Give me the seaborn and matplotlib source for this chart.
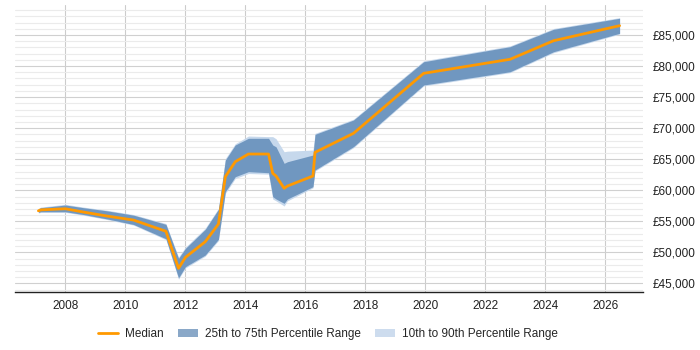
import matplotlib
matplotlib.use("Agg")
import matplotlib.pyplot as plt
from matplotlib.ticker import MultipleLocator, FuncFormatter
from matplotlib.lines import Line2D
from matplotlib.patches import Patch
import seaborn as sns
import pandas as pd

years = [2007.1, 2007.18, 2008.0, 2008.6, 2009.38, 2010.27, 2011.35, 2011.77, 2012.0,
         2012.66, 2013.1, 2013.33, 2013.66, 2014.1, 2014.77, 2014.91, 2015.02, 2015.29,
         2015.4, 2016.25, 2016.32, 2017.6, 2019.94, 2022.82, 2024.27, 2026.47]
median = [56700, 56850, 57030, 56500, 55860, 55210, 53400, 47440, 49210,
          51720, 54570, 62190, 64600, 65840, 65840, 62730, 62300, 60320,
          60690, 62300, 66110, 69170, 78830, 81090, 84080, 86500]
p25 = [56450, 56550, 56550, 56100, 55400, 54500, 52200, 45900, 47700,
       49580, 52110, 59770, 62190, 63000, 62830, 58970, 58600, 57900,
       58600, 60580, 63270, 67020, 76950, 79090, 82310, 85270]
p75 = [57000, 57200, 57630, 57200, 56700, 56000, 54520, 49050, 50660,
       53720, 56940, 64870, 67290, 68370, 68370, 67290, 67000, 64340,
       64600, 65680, 69010, 71310, 80700, 83120, 85920, 87690]
p10 = [56350, 56450, 56450, 56000, 55300, 54400, 52050, 45700, 47500,
       49400, 51900, 59500, 61900, 62700, 62600, 58600, 58300, 57470,
       58300, 60400, 63100, 66850, 76800, 78950, 82150, 85150]
p90 = [57100, 57300, 57750, 57300, 56800, 56100, 54650, 49250, 50850,
       53900, 57100, 65100, 67500, 68740, 68640, 68640, 68300, 66210,
       66300, 66480, 69170, 71450, 80850, 83250, 86050, 87800]

df = pd.DataFrame({"year": years, "median": median, "p25": p25, "p75": p75,
                   "p10": p10, "p90": p90})

dark = "#7097c0"
light = "#c6d8ec"
orange = "#ff9900"

sns.set_style("white")
plt.rcParams["font.family"] = ["Liberation Sans", "DejaVu Sans"]

fig = plt.figure(figsize=(7, 3.5), dpi=100)
ax = fig.add_axes([15 / 700, 58 / 350, 628 / 700, 287 / 350])

ax.fill_between(df["year"], df["p10"], df["p90"], color=light, lw=0, zorder=2)
ax.fill_between(df["year"], df["p25"], df["p75"], color=dark, lw=0, zorder=3)
sns.lineplot(data=df, x="year", y="median", color=orange, lw=2, ax=ax, zorder=4)

ax.set_xlim(2006.32, 2027.25)
ax.set_ylim(43630, 89830)
ax.xaxis.set_major_locator(MultipleLocator(2))
ax.yaxis.set_major_locator(MultipleLocator(5000))
ax.yaxis.set_minor_locator(MultipleLocator(1000))
ax.yaxis.set_major_formatter(FuncFormatter(lambda v, p: f"£{int(v):,}"))
ax.yaxis.tick_right()
ax.grid(axis="x", which="major", color="#cccccc", lw=0.8, zorder=0)
ax.grid(axis="y", which="major", color="#d0d0d0", lw=0.8, zorder=0)
ax.grid(axis="y", which="minor", color="#ebebeb", lw=0.8, zorder=0)
ax.set_axisbelow(True)
for s in ["top", "right", "left"]:
    ax.spines[s].set_visible(False)
ax.spines["bottom"].set_color("#222222")
ax.spines["bottom"].set_linewidth(1)
ax.tick_params(axis="y", which="both", length=0, pad=7, labelsize=8.5, colors="#222222")
ax.tick_params(axis="x", length=3, color="#888888", labelsize=8.5, pad=3, colors="#222222")
ax.set_xlabel("")
ax.set_ylabel("")

handles = [Line2D([0], [0], color=orange, lw=2),
           Patch(facecolor="#8aa8c8", edgecolor="none"),
           Patch(facecolor="#cddcee", edgecolor="none")]
labels = ["Median", "25th to 75th Percentile Range", "10th to 90th Percentile Range"]
fig.legend(handles, labels, loc="center", bbox_to_anchor=(328 / 700, 1 - 334 / 350),
           ncol=3, frameon=False, fontsize=8.5, handlelength=1.7, columnspacing=1.2,
           handletextpad=0.6)

fig.savefig("out.png", dpi=100)
